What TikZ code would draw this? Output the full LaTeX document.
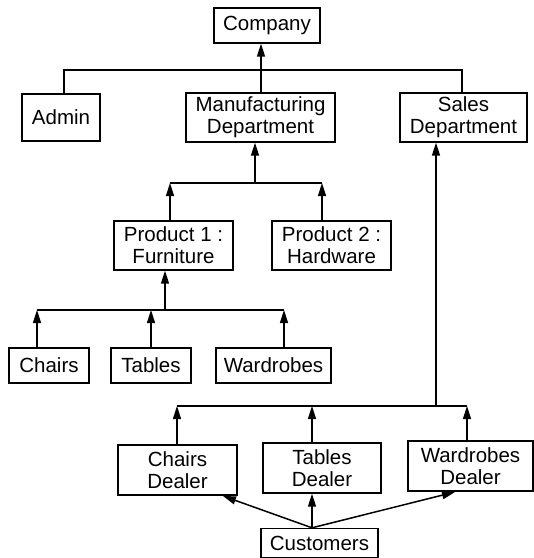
\documentclass[tikz,border=0pt]{standalone}
\usepackage{fontspec}
\setmainfont{Liberation Sans}
\usetikzlibrary{arrows.meta}
\begin{document}
\begin{tikzpicture}[x=1pt,y=-1pt,
  box/.style={draw,line width=1.4pt,inner sep=0pt,align=center,
    font=\fontsize{20.5}{22}\selectfont},
  conn/.style={line width=1.5pt},
  arr/.style={line width=1.5pt,-{Triangle[length=13pt,width=8pt]}}]
\useasboundingbox (0,0) rectangle (534,558);
% nodes
\node[box,minimum width=106,minimum height=35] (company) at (267,25.5) {Company};
\node[box,minimum width=78,minimum height=47] (admin) at (61,117.5) {Admin};
\node[box,minimum width=149,minimum height=49] (manu) at (260.5,117.5) {Manufacturing\\Department};
\node[box,minimum width=127,minimum height=49] (sales) at (463.5,117.5) {Sales\\Department};
\node[box,minimum width=119,minimum height=49] (p1) at (173.5,245.5) {Product 1 :\\Furniture};
\node[box,minimum width=119,minimum height=49] (p2) at (331.5,245.5) {Product 2 :\\Hardware};
\node[box,minimum width=80,minimum height=35] (chairs) at (49,365.5) {Chairs};
\node[box,minimum width=80,minimum height=35] (tables) at (151,365.5) {Tables};
\node[box,minimum width=115,minimum height=35] (wardrobes) at (273.5,365.5) {Wardrobes};
\node[box,minimum width=119,minimum height=50] (cd) at (177.5,470) {Chairs\\Dealer};
\node[box,minimum width=118,minimum height=50] (td) at (322,468) {Tables\\Dealer};
\node[box,minimum width=125,minimum height=50] (wd) at (470.5,466) {Wardrobes\\Dealer};
\node[box,minimum width=117,minimum height=29] (cust) at (319.5,543) {Customers};
% bus coordinates
\coordinate (b1L) at (64,70);
\coordinate (b1R) at (462,70);
\coordinate (b2) at (255,183);
\coordinate (b2L) at (170,183);
\coordinate (b2R) at (322,183);
\coordinate (b3) at (165,310);
\coordinate (b3L) at (37,310);
\coordinate (b3M) at (151,310);
\coordinate (b3R) at (284,310);
\coordinate (b4) at (436,406);
\coordinate (b4L) at (177,406);
\coordinate (b4M) at (312,406);
\coordinate (b4R) at (467,406);
\coordinate (cdtip) at (223,496);
\coordinate (wdtip) at (455,492);
% level 1
\draw[conn] (admin.north -| b1L) -- (b1L) -- (b1R) -- (sales.north -| b1R);
\draw[arr] (manu.north -| 261,0) -- (company.south -| 261,0);
% level 2
\draw[arr] (b2) -- (manu.south -| b2);
\draw[conn] (b2L) -- (b2R);
\draw[arr] (p1.north -| b2L) -- (b2L);
\draw[arr] (p2.north -| b2R) -- (b2R);
% level 3
\draw[arr] (b3) -- (p1.south -| b3);
\draw[conn] (b3L) -- (b3R);
\draw[arr] (chairs.north -| b3L) -- (b3L);
\draw[arr] (tables.north -| b3M) -- (b3M);
\draw[arr] (wardrobes.north -| b3R) -- (b3R);
% sales side
\draw[arr] (b4) -- (sales.south -| b4);
\draw[conn] (b4L) -- (b4R);
\draw[arr] (cd.north -| b4L) -- (b4L);
\draw[arr] (td.north -| b4M) -- (b4M);
\draw[arr] (wd.north -| b4R) -- (b4R);
% customers
\draw[arr] (cust.north -| b4M) -- (cdtip);
\draw[arr] (cust.north -| b4M) -- (td.south -| b4M);
\draw[arr] (cust.north -| b4M) -- (wdtip);
\end{tikzpicture}
\end{document}
